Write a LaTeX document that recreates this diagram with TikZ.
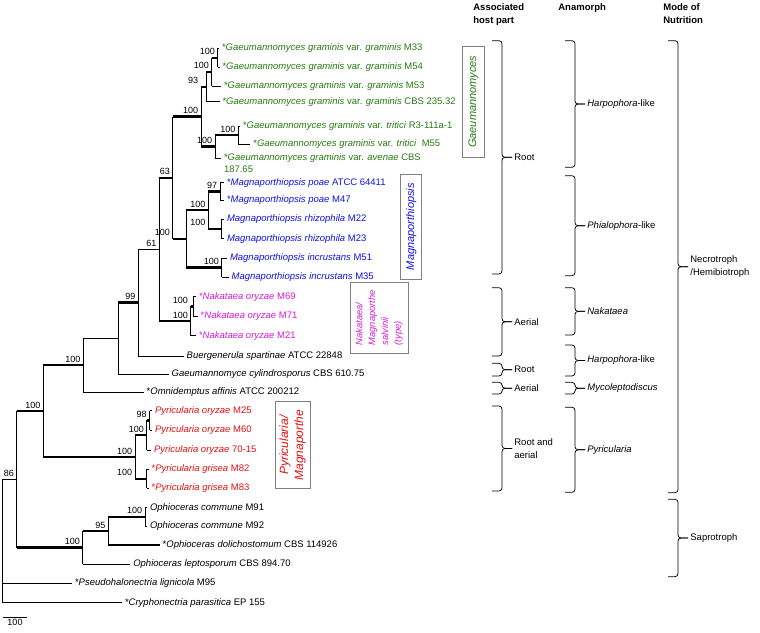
\documentclass[tikz,border=0pt]{standalone}
\usepackage{fontspec}
\setmainfont{Liberation Sans}
\definecolor{gaeugreen}{RGB}{38,122,16}
\definecolor{magblue}{RGB}{16,16,235}
\definecolor{nakpink}{RGB}{215,25,215}
\definecolor{pyrred}{RGB}{228,16,16}
\definecolor{boxgray}{RGB}{128,128,128}

\tikzset{
  taxon/.style={anchor=west, inner sep=1pt, outer sep=2pt, text height=7pt, text depth=2pt, font=\fontsize{9.5}{11}\selectfont},
  gtaxon/.style={taxon, text=gaeugreen},
  mtaxon/.style={taxon, text=magblue},
  ntaxon/.style={taxon, text=nakpink},
  ptaxon/.style={taxon, text=pyrred},
  bs/.style={anchor=south east, inner sep=2.5pt, font=\fontsize{9}{10}\selectfont},
  strong/.style={line width=2.5pt},
  cladebox/.style={draw=boxgray, line width=0.9pt, rotate=90, inner sep=0pt, font=\fontsize{11}{13}\selectfont\itshape},
  trait/.style={anchor=west, inner sep=2pt, align=left, font=\fontsize{9.5}{12.5}\selectfont},
  head/.style={anchor=north west, inner sep=1pt, align=left, font=\fontsize{9.5}{12.5}\selectfont\bfseries},
}

% branch: thin vertical at the parent, horizontal to the child
\newcommand{\branch}[3][]{\draw (#2) -- (#2 |- #3); \draw[#1] (#2 |- #3) -- (#3);}
% curly bracket with its label
\newcommand{\traitbrace}[5]{%
  \node[trait] (#4) at (#1+10,{(#2+#3)/2}) {#5};
  \draw[rounded corners=3pt] (#1-10,#2) -| (#1,{(#2+#3)/2}) -- (#4.west);
  \draw[rounded corners=3pt] (#1-10,#3) -| (#1,{(#2+#3)/2}) -- (#4.west);
}

\begin{document}
\begin{tikzpicture}[x=1pt, y=-1pt, line width=0.75pt]
\useasboundingbox (0,0) rectangle (760,632);

% internal nodes
\coordinate (gA) at (217.7,57.8);
\coordinate (gB) at (211.7,71.9);
\coordinate (gC) at (206,86.8);
\coordinate (gD) at (238.3,135.2);
\coordinate (gE) at (215,146.6);
\coordinate (gF) at (201,116.7);
\coordinate (mA) at (220,191.4);
\coordinate (mB) at (221.7,228.9);
\coordinate (mC) at (208.3,210.1);
\coordinate (mD) at (221.7,267.7);
\coordinate (mE) at (186,238.9);
\coordinate (nG) at (172.7,177.8);
\coordinate (kA) at (193.3,306.4);
\coordinate (kB) at (190.7,321);
\coordinate (n61) at (159.3,249.4);
\coordinate (n99) at (138.3,302.7);
\coordinate (n118) at (118.3,338.4);
\coordinate (n83) at (83.3,365.2);
\coordinate (pA) at (149.5,420.4);
\coordinate (pB) at (146.7,435.2);
\coordinate (pC) at (146.7,478.8);
\coordinate (pD) at (135,457);
\coordinate (n43) at (43.3,411.1);
\coordinate (oA) at (145,516.9);
\coordinate (oB) at (108.3,531);
\coordinate (oC) at (82.7,547.5);
\coordinate (n86) at (16.7,479.3);
\coordinate (root) at (2.7,541);

% taxa
\node[gtaxon] (gg33) at (219,48.3) {*\textit{Gaeumannomyces graminis} var. \textit{graminis} M33};
\node[gtaxon] (gg54) at (219.5,67.3) {*\textit{Gaeumannomyces graminis} var. \textit{graminis} M54};
\node[gtaxon] (gg53) at (221,86) {*\textit{Gaeumannomyces graminis} var. \textit{graminis} M53};
\node[gtaxon] (gg235) at (219.5,101.7) {*\textit{Gaeumannomyces graminis} var. \textit{graminis} CBS 235.32};
\node[gtaxon] (gtR3) at (240,126) {*\textit{Gaeumannomyces graminis} var. \textit{tritici} R3-111a-1};
\node[gtaxon] (gt55) at (250.3,144.3) {*\textit{Gaeumannomyces graminis} var. \textit{tritici}\ \ M55};
\node[gtaxon] (gav) at (221,158) {*\textit{Gaeumannomyces graminis} var. \textit{avenae} CBS};
\node[gtaxon] (gav2) at ([yshift=-12pt]gav.west) {187.65};
\node[mtaxon] (mp411) at (224,182.7) {*\textit{Magnaporthiopsis poae} ATCC 64411};
\node[mtaxon] (mp47) at (224,200) {*\textit{Magnaporthiopsis poae} M47};
\node[mtaxon] (mr22) at (224,219) {\textit{Magnaporthiopsis rhizophila} M22};
\node[mtaxon] (mr23) at (224,238.7) {\textit{Magnaporthiopsis rhizophila} M23};
\node[mtaxon] (mi51) at (227,258.3) {\textit{Magnaporthiopsis incrustans} M51};
\node[mtaxon] (mi35) at (228.7,277) {\textit{Magnaporthiopsis incrustans} M35};
\node[ntaxon] (no69) at (196,296.7) {*\textit{Nakataea oryzae} M69};
\node[ntaxon] (no71) at (197.7,316) {*\textit{Nakataea oryzae} M71};
\node[ntaxon] (no21) at (196,335.7) {*\textit{Nakataea oryzae} M21};
\node[taxon] (bsp) at (183.7,356) {\textit{Buergenerula spartinae} ATCC 22848};
\node[taxon] (gcy) at (168.7,374) {\textit{Gaeumannomyce cylindrosporus} CBS 610.75};
\node[taxon] (oaf) at (143.7,392) {*\textit{Omnidemptus affinis} ATCC 200212};
\node[ptaxon] (po25) at (152,410.7) {\textit{Pyricularia oryzae} M25};
\node[ptaxon] (po60) at (152,430) {\textit{Pyricularia oryzae} M60};
\node[ptaxon] (po70) at (151,450) {\textit{Pyricularia oryzae} 70-15};
\node[ptaxon] (pg82) at (148.7,469.3) {*\textit{Pyricularia grisea} M82};
\node[ptaxon] (pg83) at (148.7,488.3) {*\textit{Pyricularia grisea} M83};
\node[taxon] (oc91) at (147,507.7) {\textit{Ophioceras commune} M91};
\node[taxon] (oc92) at (147,526) {\textit{Ophioceras commune} M92};
\node[taxon] (odo) at (159.7,545) {*\textit{Ophioceras dolichostomum} CBS 114926};
\node[taxon] (ole) at (130.3,564) {\textit{Ophioceras leptosporum} CBS 894.70};
\node[taxon] (pli) at (72,583.3) {*\textit{Pseudohalonectria lignicola} M95};
\node[taxon] (cpa) at (122,602.7) {*\textit{Cryphonectria parasitica} EP 155};

% Gaeumannomyces
\branch{gA}{gg33.west} \branch{gA}{gg54.west}
\branch[strong]{gB}{gA} \branch{gB}{gg53.west}
\branch[strong]{gC}{gB} \branch{gC}{gg235.west}
\branch{gD}{gtR3.west} \branch{gD}{gt55.west}
\branch[strong]{gE}{gD} \branch{gE}{gav.west}
\branch[strong]{gF}{gC} \branch[strong]{gF}{gE}
% Magnaporthiopsis
\branch{mA}{mp411.west} \branch{mA}{mp47.west}
\branch{mB}{mr22.west} \branch{mB}{mr23.west}
\branch[strong]{mC}{mA} \branch[strong]{mC}{mB}
\branch{mD}{mi51.west} \branch{mD}{mi35.west}
\branch[strong]{mE}{mC} \branch[strong]{mE}{mD}
\branch[strong]{nG}{gF} \branch[strong]{nG}{mE}
% Nakataea and the rest
\branch{kA}{no69.west} \branch{kA}{no71.west}
\branch[strong]{kB}{kA} \branch{kB}{no21.west}
\branch[strong]{n61}{nG} \branch[strong]{n61}{kB}
\branch{n99}{n61} \branch{n99}{bsp.west}
\branch[strong]{n118}{n99} \branch{n118}{gcy.west}
\branch{n83}{n118} \branch{n83}{oaf.west}
% Pyricularia
\branch{pA}{po25.west} \branch{pA}{po60.west}
\branch[strong]{pB}{pA} \branch{pB}{po70.west}
\branch{pC}{pg82.west} \branch{pC}{pg83.west}
\branch[strong]{pD}{pB} \branch[strong]{pD}{pC}
\branch[strong]{n43}{n83} \branch[strong]{n43}{pD}
% Ophioceras
\branch{oA}{oc91.west} \branch{oA}{oc92.west}
\branch[strong]{oB}{oA} \branch[strong]{oB}{odo.west}
\branch[strong]{oC}{oB} \branch{oC}{ole.west}
\branch[strong]{n86}{n43} \branch[strong]{n86}{oC}
\branch{root}{n86} \branch{root}{pli.west} \branch{root}{cpa.west}

% bootstrap values
\node[bs] (sgA) at (gA) {100};
\node[bs] (sgB) at (gB) {100};
\node[bs] (sgC) at (gF |- gC) {93};
\node[bs] (sgD) at (gD) {100};
\node[bs] (sgE) at (gE) {100};
\node[bs] (sgF) at (gF) {100};
\node[bs] (smA) at (mA) {97};
\node[bs] (smB) at (mC |- mB) {100};
\node[bs] (smC) at (mC) {100};
\node[bs] (smD) at (mD) {100};
\node[bs] (smE) at (nG |- mE) {100};
\node[bs] (snG) at (nG) {63};
\node[bs] (skA) at (kB |- kA) {100};
\node[bs] (skB) at (kB) {100};
\node[bs] (s61) at (n61) {61};
\node[bs] (s99) at (n99) {99};
\node[bs] (s83) at (n83) {100};
\node[bs] (spA) at (pA) {98};
\node[bs] (spB) at (pB) {100};
\node[bs] (spC) at (pD |- pC) {100};
\node[bs] (spD) at (pD) {100};
\node[bs] (s43) at (n43) {100};
\node[bs] (soA) at (oA) {100};
\node[bs] (soB) at (oB) {95};
\node[bs] (soC) at (oC) {100};
\node[bs] (s86) at (n86) {86};

% scale bar
\coordinate (sbL) at (3.3,617.7);
\coordinate (sbR) at (26.7,617.7);
\draw (sbL) -- node[below, inner sep=1.5pt, font=\fontsize{9}{10}\selectfont] (sbT) {100} (sbR);

% genus boxes
\node[cladebox, text=gaeugreen, minimum width=111.3pt, minimum height=21.6pt] (boxG) at (473.5,101.7) {Gaeumannomyces};
\node[cladebox, text=magblue, minimum width=105.3pt, minimum height=21pt] (boxM) at (411.2,226.7) {Magnaporthiopsis};
\node[cladebox, text=nakpink, minimum width=71pt, minimum height=58.3pt, align=left, font=\fontsize{9.3}{12.8}\selectfont\itshape] (boxN) at (379.2,317.8) {Nakataea/\\Magnaporthe\\salvinii\\(type)};
\node[cladebox, text=pyrred, minimum width=86.6pt, minimum height=35pt, align=center, font=\fontsize{12}{15}\selectfont\itshape] (boxP) at (292.5,445) {Pyricularia/\\Magnaporthe};

% right columns
\def \xa{502}
\def \xb{575}
\def \xc{678}

\node[head] (hHost) at (472,2.5) {Associated\\host part};
\node[head] (hAna) at (557,2.5) {Anamorph};
\node[head] (hMode) at (662,2.5) {Mode of\\Nutrition};

\traitbrace{\xa}{40.7}{274}{host1}{Root}
\traitbrace{\xa}{287.7}{356}{host2}{Aerial}
\traitbrace{\xa}{363.3}{376}{host3}{Root}
\traitbrace{\xa}{382.3}{394}{host4}{Aerial}
\traitbrace{\xa}{406}{491}{host5}{Root and\\aerial}

\traitbrace{\xb}{40.7}{167.3}{ana1}{\textit{Harpophora}-like}
\traitbrace{\xb}{175.7}{275.7}{ana2}{\textit{Phialophora}-like}
\traitbrace{\xb}{287.7}{335}{ana3}{\textit{Nakataea}}
\traitbrace{\xb}{345}{376}{ana4}{\textit{Harpophora}-like}
\traitbrace{\xb}{382.3}{394}{ana5}{\textit{Mycoleptodiscus}}
\traitbrace{\xb}{407.3}{492.3}{ana6}{\textit{Pyricularia}}

\traitbrace{\xc}{40.7}{492.7}{mode1}{Necrotroph\\/Hemibiotroph}
\traitbrace{\xc}{499.3}{576.7}{mode2}{Saprotroph}

\end{tikzpicture}
\end{document}
